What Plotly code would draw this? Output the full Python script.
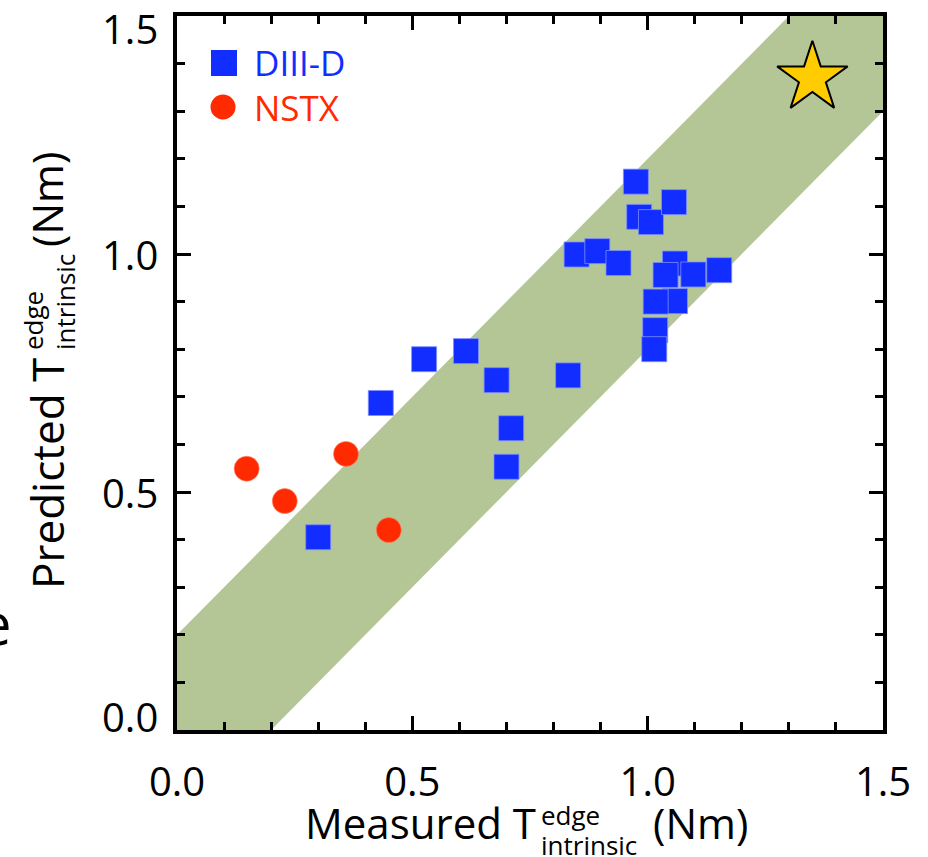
import plotly.graph_objects as go

# ---------------- data ----------------
diiid_measured = [0.300, 0.433, 0.525, 0.614, 0.679, 0.710, 0.700, 0.831,
                  0.849, 0.893, 0.938, 0.975, 0.982, 1.007, 1.056, 1.058,
                  1.038, 1.097, 1.152, 1.058, 1.017, 1.016, 1.014]
diiid_predicted = [0.405, 0.687, 0.779, 0.796, 0.735, 0.634, 0.553, 0.745,
                   0.999, 1.006, 0.981, 1.152, 1.078, 1.067, 1.109, 0.980,
                   0.956, 0.957, 0.966, 0.901, 0.900, 0.840, 0.800]
nstx_measured = [0.148, 0.229, 0.359, 0.450]
nstx_predicted = [0.549, 0.481, 0.580, 0.420]
star_measured = [1.35]
star_predicted = [1.37]
band_offset = 0.2
axis_range = [0.0, 1.5]
tick_vals = [0.0, 0.5, 1.0, 1.5]
tick_text = ["0.0", "0.5", "1.0", "1.5"]

# ---------------- style ----------------
BLUE = "#112dff"
RED = "#ff2a00"
GREEN = "#b4c695"
FONT = "Open Sans"

W, H = 928, 857
ML, MR, MT, MB = 177, 45, 16, 127
PW, PH = W - ML - MR, H - MT - MB


def px2x(px):
    return (px - ML) / PW


def py2y(py):
    return (H - MB - py) / PH


lo, hi = axis_range
band_x = [lo, lo, hi - band_offset, hi, hi, lo + band_offset, lo]
band_y = [lo, lo + band_offset, hi, hi, hi - band_offset, lo, lo]

fig = go.Figure()
fig.add_trace(go.Scatter(x=band_x, y=band_y, mode="lines", fill="toself",
                         fillcolor=GREEN, line=dict(width=0), hoverinfo="skip",
                         showlegend=False))
fig.add_trace(go.Scatter(x=diiid_measured, y=diiid_predicted, mode="markers",
                         name="DIII-D",
                         marker=dict(symbol="square", size=25, color=BLUE,
                                     line=dict(color="#7f8fff", width=0.8)),
                         showlegend=False))
fig.add_trace(go.Scatter(x=nstx_measured, y=nstx_predicted, mode="markers",
                         name="NSTX",
                         marker=dict(symbol="circle", size=25, color=RED,
                                     line=dict(color="#ff8a70", width=0.6)),
                         showlegend=False))
fig.add_trace(go.Scatter(x=star_measured, y=star_predicted, mode="markers",
                         marker=dict(symbol="star", size=53, color="#ffcc00",
                                     line=dict(color="black", width=2)),
                         showlegend=False))

axis_common = dict(range=axis_range, tickvals=tick_vals, ticktext=tick_text,
                   showgrid=False, zeroline=False, showline=True,
                   linecolor="black", linewidth=4, mirror="allticks",
                   ticks="inside", ticklen=14, tickwidth=3, tickcolor="black",
                   tickfont=dict(family=FONT, size=40, color="black"),
                   ticklabeloverflow="allow", automargin=False,
                   minor=dict(ticks="inside", ticklen=8, tickwidth=3,
                              tickcolor="black", dtick=0.1, showgrid=False),
                   fixedrange=True)
fig.update_xaxes(**axis_common, ticklabelstandoff=14)
# y tick labels are placed as annotations on the y scale so the end labels
# can be nudged inward as in the reference
fig.update_yaxes(**axis_common, showticklabels=False)

ann = []
y_label_shift = {0.0: 14, 1.5: -12}
for v, t in zip(tick_vals, tick_text):
    ann.append(dict(text=t, x=px2x(160), y=v, xref="paper", yref="y",
                    xanchor="right", yanchor="middle", showarrow=False,
                    yshift=y_label_shift.get(v, 0),
                    font=dict(family=FONT, size=40, color="black")))

# legend
ann.append(dict(text="DIII-D", x=px2x(252), y=py2y(63), xref="paper", yref="paper",
                xanchor="left", yanchor="middle", showarrow=False,
                font=dict(family=FONT, size=35, color=BLUE)))
ann.append(dict(text="NSTX", x=px2x(252), y=py2y(107), xref="paper", yref="paper",
                xanchor="left", yanchor="middle", showarrow=False,
                font=dict(family=FONT, size=35, color=RED)))
shapes = [
    dict(type="rect", xref="paper", yref="paper", x0=px2x(211), x1=px2x(237),
         y0=py2y(76), y1=py2y(50), fillcolor=BLUE, line=dict(width=0)),
    dict(type="circle", xref="paper", yref="paper", x0=px2x(210.5), x1=px2x(235.5),
         y0=py2y(119.5), y1=py2y(94.5), fillcolor=RED, line=dict(width=0)),
]

# x-axis title pieces
TS, SS = 42, 26
ann.append(dict(text="Measured T", x=px2x(538), y=py2y(822), xref="paper", yref="paper",
                xanchor="right", yanchor="middle", showarrow=False,
                font=dict(family=FONT, size=TS, color="black")))
ann.append(dict(text="edge", x=px2x(539), y=py2y(815), xref="paper", yref="paper",
                xanchor="left", yanchor="middle", showarrow=False,
                font=dict(family=FONT, size=SS, color="black")))
ann.append(dict(text="intrinsic", x=px2x(539), y=py2y(845), xref="paper", yref="paper",
                xanchor="left", yanchor="middle", showarrow=False,
                font=dict(family=FONT, size=SS, color="black")))
ann.append(dict(text="(Nm)", x=px2x(651), y=py2y(822), xref="paper", yref="paper",
                xanchor="left", yanchor="middle", showarrow=False,
                font=dict(family=FONT, size=TS, color="black")))

# y-axis title pieces (rotated), centred on their reference positions
ann.append(dict(text="Predicted T", x=px2x(47), y=py2y(474), xref="paper", yref="paper",
                xanchor="center", yanchor="middle", textangle=-90, showarrow=False,
                font=dict(family=FONT, size=44, color="black")))
ann.append(dict(text="edge", x=px2x(33), y=py2y(321), xref="paper", yref="paper",
                xanchor="center", yanchor="middle", textangle=-90, showarrow=False,
                font=dict(family=FONT, size=SS, color="black")))
ann.append(dict(text="intrinsic", x=px2x(65), y=py2y(302), xref="paper", yref="paper",
                xanchor="center", yanchor="middle", textangle=-90, showarrow=False,
                font=dict(family=FONT, size=SS, color="black")))
ann.append(dict(text="(Nm)", x=px2x(47), y=py2y(200), xref="paper", yref="paper",
                xanchor="center", yanchor="middle", textangle=-90, showarrow=False,
                font=dict(family=FONT, size=TS, color="black")))

# clipped glyph at the left edge
ann.append(dict(text="e", x=px2x(14), y=py2y(622), xref="paper", yref="paper",
                xanchor="right", yanchor="middle", showarrow=False,
                font=dict(family=FONT, size=58, color="black")))

fig.update_layout(width=W, height=H, margin=dict(l=ML, r=MR, t=MT, b=MB),
                  paper_bgcolor="white", plot_bgcolor="white",
                  showlegend=False, annotations=ann, shapes=shapes,
                  font=dict(family=FONT, color="black"))

fig.write_html("out.html")
